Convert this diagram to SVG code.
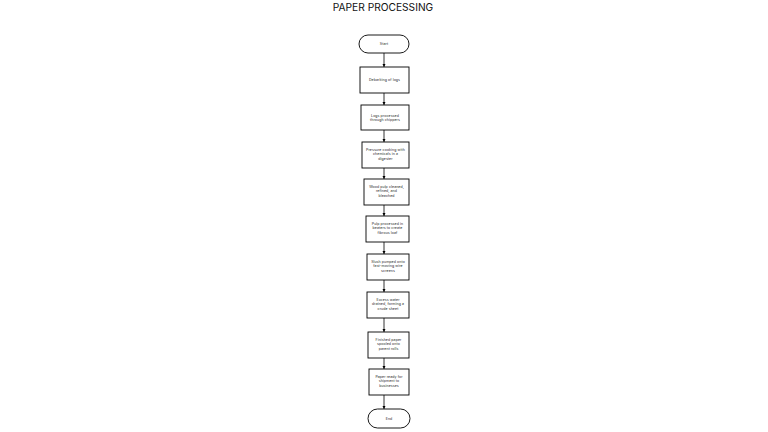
<svg xmlns="http://www.w3.org/2000/svg" width="768" height="432" viewBox="0 0 768 432">
<defs>
<marker id="ah" viewBox="0 0 6 6" refX="6" refY="3" markerWidth="4" markerHeight="4" orient="auto"><path d="M0,0 L6,3 L0,6 z" fill="#000"/></marker>
<style>
.n{fill:#fff;stroke:#000;stroke-width:0.9}
.t{font-family:Inter,"Liberation Sans",Arial,sans-serif;font-size:3.5px;fill:#222;text-anchor:middle;letter-spacing:0.1px}
.e{stroke:#000;stroke-width:0.8;fill:none;marker-end:url(#ah)}
.title{font-family:Inter,"Liberation Sans",sans-serif;font-size:10.2px;fill:#111;text-anchor:middle}
</style>
</defs>
<rect width="768" height="432" fill="#fff"/>
<text class="title" x="383" y="11">PAPER PROCESSING</text>
<g id="connectors">
<path class="e" d="M384,53 V67"/>
<path class="e" d="M384,93 V105"/>
<path class="e" d="M384,130 V142"/>
<path class="e" d="M384,168 V179"/>
<path class="e" d="M384,205 V216"/>
<path class="e" d="M384,242 V254"/>
<path class="e" d="M384,280 V292"/>
<path class="e" d="M384,318 V332"/>
<path class="e" d="M384,358 V369"/>
<path class="e" d="M384,395 V409"/>
</g>
<g id="start"><rect class="n" x="359" y="35" width="50" height="18" rx="9"/><text class="t" x="384" y="45.3">Start</text></g>
<g id="n1"><rect class="n" x="360" y="67" width="49" height="26"/><text class="t" x="384.5" y="81.3">Debarking of logs</text></g>
<g id="n2"><rect class="n" x="361" y="105" width="48" height="25"/><text class="t" x="385" y="116.5">Logs processed<tspan x="385" dy="4.5">through chippers</tspan></text></g>
<g id="n3"><rect class="n" x="362" y="142" width="47" height="26"/><text class="t" x="385.5" y="150.7">Pressure cooking with<tspan x="385.5" dy="4.5">chemicals in a</tspan><tspan x="385.5" dy="4.5">digester</tspan></text></g>
<g id="n4"><rect class="n" x="364" y="179" width="45" height="26"/><text class="t" x="386.5" y="187.7">Wood pulp cleaned,<tspan x="386.5" dy="4.5">refined, and</tspan><tspan x="386.5" dy="4.5">bleached</tspan></text></g>
<g id="n5"><rect class="n" x="366" y="216" width="43" height="26"/><text class="t" x="387.5" y="224.7">Pulp processed in<tspan x="387.5" dy="4.5">beaters to create</tspan><tspan x="387.5" dy="4.5">fibrous loaf</tspan></text></g>
<g id="n6"><rect class="n" x="367" y="254" width="42" height="26"/><text class="t" x="388" y="262.7">Slush pumped onto<tspan x="388" dy="4.5">fast-moving wire</tspan><tspan x="388" dy="4.5">screens</tspan></text></g>
<g id="n7"><rect class="n" x="367" y="292" width="42" height="26"/><text class="t" x="388" y="300.7">Excess water<tspan x="388" dy="4.5">drained, forming a</tspan><tspan x="388" dy="4.5">crude sheet</tspan></text></g>
<g id="n8"><rect class="n" x="368" y="332" width="41" height="26"/><text class="t" x="388.5" y="340.7">Finished paper<tspan x="388.5" dy="4.5">spooled onto</tspan><tspan x="388.5" dy="4.5">parent rolls</tspan></text></g>
<g id="n9"><rect class="n" x="369" y="369" width="40" height="26"/><text class="t" x="389" y="377.7">Paper ready for<tspan x="389" dy="4.5">shipment to</tspan><tspan x="389" dy="4.5">businesses</tspan></text></g>
<g id="end"><rect class="n" x="368" y="409" width="42" height="19" rx="9.5"/><text class="t" x="389" y="419.8">End</text></g>
</svg>
